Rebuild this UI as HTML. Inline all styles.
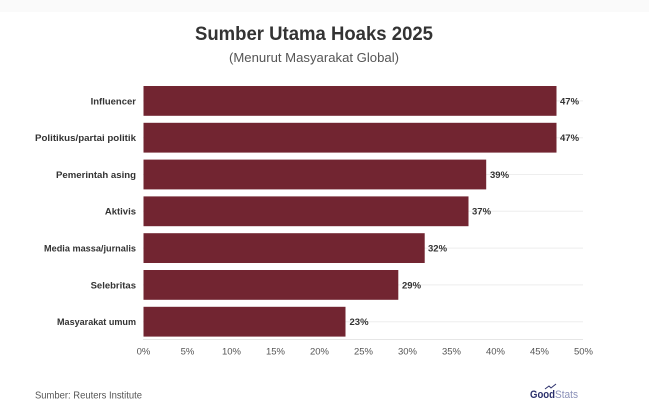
<!DOCTYPE html>
<html>
<head>
<meta charset="utf-8">
<style>
  html,body{margin:0;padding:0;background:#ffffff;}
  body{width:649px;height:420px;overflow:hidden;}
  svg{display:block;}
  text{font-family:"Liberation Sans", sans-serif;}
</style>
</head>
<body>
<svg width="649" height="420" viewBox="0 0 649 420" xmlns="http://www.w3.org/2000/svg">
  <rect x="0" y="0" width="649" height="420" fill="#ffffff"/>
  <rect x="0" y="0" width="649" height="12" fill="#fafafa"/>

  <!-- Title -->
  <text x="195" y="40" font-size="19" font-weight="bold" fill="#333333" textLength="238" lengthAdjust="spacingAndGlyphs">Sumber Utama Hoaks 2025</text>
  <text x="229" y="62" font-size="13" fill="#555555" textLength="170" lengthAdjust="spacingAndGlyphs">(Menurut Masyarakat Global)</text>

  <!-- Row gridlines -->
  <g stroke="#eeeeee" stroke-width="1">
    <line x1="143" y1="100.9" x2="583" y2="100.9"/>
    <line x1="143" y1="137.7" x2="583" y2="137.7"/>
    <line x1="143" y1="174.5" x2="583" y2="174.5"/>
    <line x1="143" y1="211.3" x2="583" y2="211.3"/>
    <line x1="143" y1="248.1" x2="583" y2="248.1"/>
    <line x1="143" y1="284.9" x2="583" y2="284.9"/>
    <line x1="143" y1="321.7" x2="583" y2="321.7"/>
    <line x1="143" y1="339.5" x2="583" y2="339.5" stroke="#e6e6e6"/>
  </g>

  <!-- Bars -->
  <g fill="#722531">
    <rect x="143.5" y="86" width="413" height="29.8"/>
    <rect x="143.5" y="122.8" width="413" height="29.8"/>
    <rect x="143.5" y="159.6" width="342.7" height="29.8"/>
    <rect x="143.5" y="196.4" width="325" height="29.8"/>
    <rect x="143.5" y="233.2" width="281.2" height="29.8"/>
    <rect x="143.5" y="270" width="254.8" height="29.8"/>
    <rect x="143.5" y="306.8" width="202" height="29.8"/>
  </g>

  <!-- Category labels -->
  <g font-size="9.5" font-weight="bold" fill="#333333" text-anchor="end">
    <text x="136" y="104.3">Influencer</text>
    <text x="136" y="141.1" textLength="101" lengthAdjust="spacingAndGlyphs">Politikus/partai politik</text>
    <text x="136" y="177.9" textLength="80" lengthAdjust="spacingAndGlyphs">Pemerintah asing</text>
    <text x="136" y="214.7">Aktivis</text>
    <text x="136" y="251.5" textLength="92" lengthAdjust="spacingAndGlyphs">Media massa/jurnalis</text>
    <text x="136" y="288.3">Selebritas</text>
    <text x="136" y="325.1" textLength="79" lengthAdjust="spacingAndGlyphs">Masyarakat umum</text>
  </g>

  <!-- Value labels -->
  <g font-size="9.5" font-weight="bold" fill="#333333">
    <text x="560" y="104.3">47%</text>
    <text x="560" y="141.1">47%</text>
    <text x="490" y="177.9">39%</text>
    <text x="472" y="214.7">37%</text>
    <text x="428" y="251.5">32%</text>
    <text x="402" y="288.3">29%</text>
    <text x="349.5" y="325.1">23%</text>
  </g>

  <!-- Axis tick labels -->
  <g font-size="9.5" fill="#555555" text-anchor="middle">
    <text x="143.5" y="354.5">0%</text>
    <text x="187.5" y="354.5">5%</text>
    <text x="231.5" y="354.5">10%</text>
    <text x="275.5" y="354.5">15%</text>
    <text x="319.5" y="354.5">20%</text>
    <text x="363.5" y="354.5">25%</text>
    <text x="407.5" y="354.5">30%</text>
    <text x="451.5" y="354.5">35%</text>
    <text x="495.5" y="354.5">40%</text>
    <text x="539.5" y="354.5">45%</text>
    <text x="583.5" y="354.5">50%</text>
  </g>

  <!-- Source -->
  <text x="35" y="398.5" font-size="10" fill="#555555" textLength="107" lengthAdjust="spacingAndGlyphs">Sumber: Reuters Institute</text>

  <!-- GoodStats logo -->
  <g>
    <path d="M545 389 L549 386 L551 388 L556 384" stroke="#2a2f6b" stroke-width="1" fill="none"/>
    <text x="530" y="398" font-size="11" font-weight="bold" fill="#2a2f6b" textLength="25" lengthAdjust="spacingAndGlyphs">Good</text>
    <text x="555" y="398" font-size="11" fill="#8a90b8" textLength="23" lengthAdjust="spacingAndGlyphs">Stats</text>
  </g>
</svg>
</body>
</html>
